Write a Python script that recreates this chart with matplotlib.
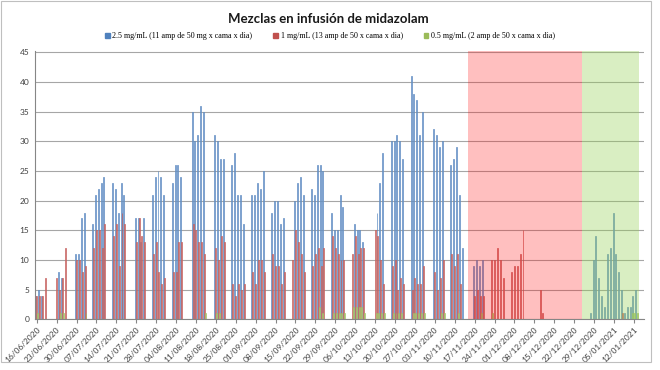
import numpy as np
import pandas as pd
import matplotlib
matplotlib.use("Agg")
import matplotlib.pyplot as plt
import matplotlib.dates as mdates
from matplotlib.patches import Patch, Rectangle

# ---------- datos: semanas de lunes a viernes (0 = sin dato) ----------
week_start = pd.date_range("2020-06-15", periods=26, freq="7D")

blue_w = [
    [0, 4, 5, 4, 0], [0, 0, 8, 7, 0], [0, 11, 11, 17, 18], [16, 21, 22, 23, 24],
    [23, 22, 18, 23, 21], [0, 17, 17, 13, 17], [21, 24, 25, 24, 21], [23, 26, 26, 24, 0],
    [35, 30, 31, 36, 35], [0, 31, 30, 27, 27], [26, 28, 21, 21, 16], [21, 21, 23, 22, 25],
    [18, 20, 20, 16, 17], [0, 20, 23, 24, 21], [22, 21, 26, 26, 25], [18, 15, 15, 21, 19],
    [0, 16, 15, 15, 13], [0, 0, 18, 23, 28], [30, 30, 31, 30, 27], [41, 38, 37, 31, 35],
    [0, 32, 31, 29, 30], [26, 27, 29, 21, 12], [0, 9, 10, 9, 10], [0, 0, 0, 0, 0],
    [0, 0, 0, 0, 0], [0, 0, 0, 0, 0],
]
red_w = [
    [0, 4, 4, 4, 7], [0, 7, 5, 7, 12], [0, 10, 10, 8, 9], [12, 15, 15, 12, 16],
    [14, 16, 9, 18, 16], [0, 13, 17, 14, 13], [11, 13, 8, 6, 7], [8, 8, 13, 13, 0],
    [16, 15, 13, 13, 11], [0, 12, 10, 14, 13], [6, 4, 6, 5, 6], [8, 6, 10, 10, 8],
    [11, 9, 9, 6, 8], [10, 15, 13, 11, 8], [9, 11, 12, 9, 12], [14, 12, 11, 10, 10],
    [11, 14, 11, 12, 12], [0, 15, 14, 10, 6], [9, 10, 5, 7, 6], [5, 7, 6, 6, 9],
    [0, 8, 5, 7, 10], [11, 9, 11, 6, 0], [0, 4, 5, 4, 4], [10, 10, 12, 10, 7],
    [8, 9, 9, 11, 15], [0, 0, 0, 5, 1],
]
green_w = [
    [0, 1, 0, 0, 0], [0, 0, 1, 1, 0], [0, 0, 0, 0, 1], [0, 0, 0, 0, 0],
    [0, 0, 0, 0, 0], [0, 0, 0, 0, 0], [0, 0, 0, 0, 0], [0, 0, 0, 0, 0],
    [0, 0, 0, 0, 1], [0, 1, 1, 0, 0], [0, 0, 0, 0, 0], [0, 0, 0, 0, 0],
    [0, 0, 0, 0, 0], [0, 0, 0, 0, 0], [0, 0, 2, 1, 0], [1, 1, 1, 1, 1],
    [2, 2, 2, 2, 1], [0, 1, 1, 1, 1], [1, 1, 1, 1, 0], [1, 1, 1, 1, 1],
    [0, 0, 0, 1, 1], [0, 0, 1, 0, 0], [0, 0, 0, 1, 0], [1, 0, 0, 0, 0],
    [0, 0, 0, 0, 0], [0, 0, 0, 0, 0],
]

# ---------- final: dias seguidos ----------
end_days = pd.date_range("2020-12-28", "2021-01-13", freq="D")
blue_end = [1, 10, 14, 7, 4, 2, 11, 12, 18, 11, 8, 5, 1, 2, 2, 4, 5]
red_end = [0, 0, 0, 0, 0, 0, 0, 0, 0, 0, 0, 1, 0, 0, 0, 0, 0]
green_end = [0, 0, 0, 0, 0, 0, 0, 0, 0, 0, 0, 0, 0, 0, 1, 1, 1]

red_zone = ("2020-11-14 19:00", "2020-12-24 17:00")
green_zone = ("2020-12-24 17:00", "2021-01-13 17:00")

tick_dates = pd.date_range("2020-06-16", "2021-01-12", freq="7D")

labels = ["2.5 mg/mL (11 amp de 50 mg x cama x dia)",
          "1 mg/mL (13 amp de 50 x cama x dia)",
          "0.5 mg/mL (2 amp de 50 x cama x dia)"]
colors = ["#4F81BD", "#C0504D", "#9BBB59"]
fills = ["#A7BFDE", "#DFA7A6", "#C9DAA8"]

# ---------- armar series diarias ----------
dates, blue, red, green = [], [], [], []
for i, mon in enumerate(week_start):
    for d in range(5):
        dates.append(mon + pd.Timedelta(days=d))
        blue.append(blue_w[i][d])
        red.append(red_w[i][d])
        green.append(green_w[i][d])
dates += list(end_days)
blue += blue_end
red += red_end
green += green_end

x = mdates.date2num(pd.DatetimeIndex(dates).to_pydatetime())
blue = np.array(blue, float)
red = np.array(red, float)
green = np.array(green, float)

# ---------- figura ----------
plt.rcParams['font.family'] = ['Lato', 'DejaVu Sans']
fig = plt.figure(figsize=(6.6, 3.7), dpi=100)
ax = fig.add_axes([0.053, 0.137, 0.923, 0.7265])

w = 0.34
series = [(-w, blue, colors[0], fills[0]), (0, red, colors[1], fills[1]), (w, green, colors[2], fills[2])]
for off, vals, c, f in series:
    m = vals > 0
    ax.bar(x[m] + off, vals[m], width=w, color=f, edgecolor=c, linewidth=0.45, zorder=2)

# zonas sombreadas (encima, semi transparentes)
ax.axvspan(mdates.date2num(pd.Timestamp(red_zone[0])), mdates.date2num(pd.Timestamp(red_zone[1])),
           color="#FF0000", alpha=0.25, lw=0, zorder=3)
ax.axvspan(mdates.date2num(pd.Timestamp(green_zone[0])), mdates.date2num(pd.Timestamp(green_zone[1])),
           color="#92D050", alpha=0.35, lw=0, zorder=3)

t0 = mdates.date2num(pd.Timestamp("2020-06-16"))
ax.set_xlim(t0 - 0.6, t0 + 213.6)
ax.set_ylim(0, 45.3)
ax.set_yticks(np.arange(0, 46, 5))
ax.set_xticks(mdates.date2num(tick_dates.to_pydatetime()))
ax.set_xticklabels([d.strftime("%d/%m/%Y") for d in tick_dates], rotation=45,
                   ha="right", rotation_mode="anchor", fontsize=6, color="#404040")
ax.tick_params(axis="y", labelsize=6, colors="#404040", length=0, pad=4)
ax.tick_params(axis="x", length=3, color="#868686", pad=2)

ax.grid(axis="y", color="#A6A6A6", linewidth=0.8)
ax.set_axisbelow(True)
for s in ["top", "right"]:
    ax.spines[s].set_visible(False)
for s in ["left", "bottom"]:
    ax.spines[s].set_color("#868686")
    ax.spines[s].set_linewidth(0.8)

fig.text(0.498, 1 - 19 / 370, "Mezclas en infusión de midazolam", ha="center", va="center",
         fontsize=9.5, fontweight="bold", color="#1a1a1a")

handles = [Patch(facecolor=c, edgecolor=c) for c in colors]
fig.legend(handles, labels, loc="center", bbox_to_anchor=(0.5, 1 - 36 / 370), ncol=3,
           frameon=False, handlelength=0.6, handleheight=0.6, handletextpad=0.3,
           columnspacing=2.6, prop={"family": ["Liberation Serif", "DejaVu Serif"], "size": 5.8})

fig.patches.append(Rectangle((0.002, 0.022), 0.985, 0.975, transform=fig.transFigure,
                             fill=False, edgecolor="#BFBFBF", linewidth=0.8))

fig.savefig("out.png", dpi=100)
